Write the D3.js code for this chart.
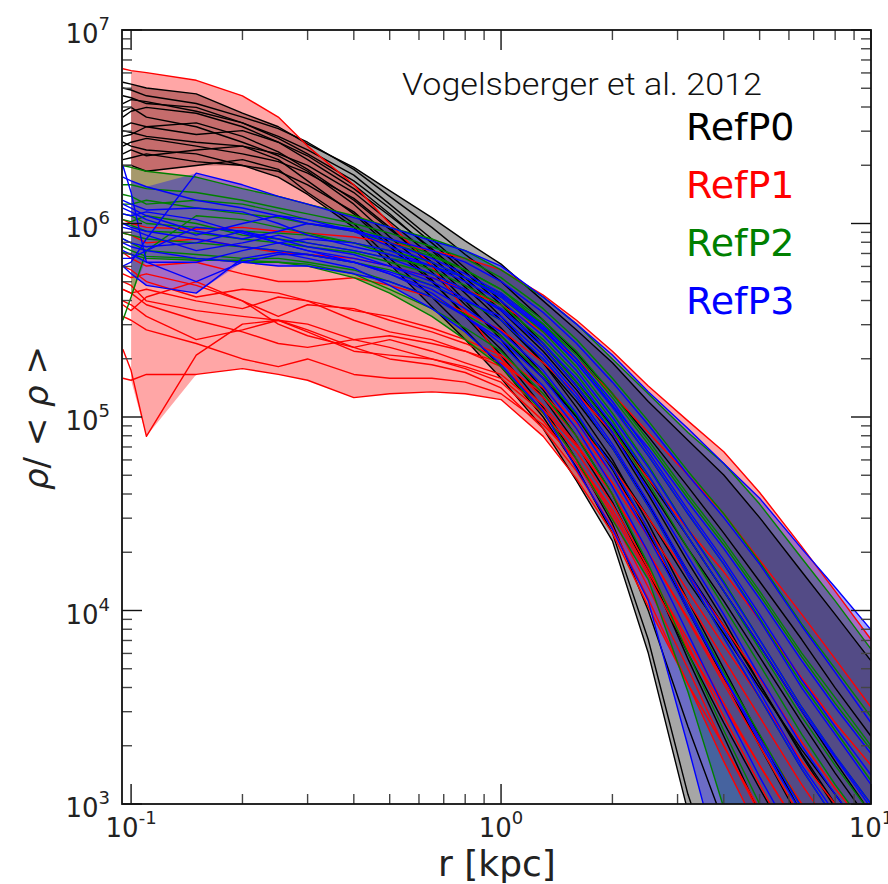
<!DOCTYPE html>
<html lang="en">
<head>
<meta charset="UTF-8">
<title>Density profiles</title>
<script src="https://d3js.org/d3.v7.min.js"></script>
<style>
    body { margin: 0; background: #fff; }
    text { font-family: "DejaVu Sans", sans-serif; }
</style>
</head>
<body>
<svg id="main" width="888" height="884"></svg>
<script>
// radius in kpc, shared by every profile
const radii = [0.095, 0.1, 0.11, 0.15, 0.2, 0.25, 0.3, 0.4, 0.5, 0.65, 0.8,
               1.0, 1.3, 1.6, 2.0, 2.5, 3.2, 4.0, 5.0, 6.5, 8.0, 10];

// log10(rho/<rho>) per halo
const refP0 = [
    [6.73,6.72,6.70,6.67,6.57,6.50,6.41,6.29,6.17,6.03,5.91, 5.79,5.60,5.45,5.28,5.08,4.88,4.70,4.48,4.20,3.98,3.74],
    [6.70,6.69,6.66,6.62,6.55,6.49,6.42,6.28,6.14,5.98,5.84, 5.70,5.50,5.33,5.12,4.90,4.64,4.40,4.15,3.85,3.60,3.35],
    [6.62,6.64,6.63,6.58,6.52,6.45,6.38,6.25,6.10,5.92,5.77, 5.60,5.38,5.18,4.95,4.68,4.38,4.10,3.82,3.48,3.22,2.95],
    [6.55,6.58,6.60,6.57,6.50,6.42,6.33,6.18,6.04,5.87,5.72, 5.55,5.34,5.14,4.90,4.60,4.25,3.95,3.62,3.25,2.98,2.70],
    [6.50,6.52,6.50,6.46,6.48,6.42,6.35,6.20,6.05,5.86,5.70, 5.52,5.28,5.05,4.78,4.45,4.05,3.70,3.35,2.95,2.65,2.40],
    [6.45,6.46,6.50,6.52,6.45,6.37,6.28,6.12,5.97,5.80,5.64, 5.46,5.22,5.00,4.73,4.40,4.00,3.65,3.30,2.90,2.60,2.30],
    [6.40,6.42,6.44,6.40,6.36,6.32,6.26,6.13,5.98,5.78,5.60, 5.40,5.14,4.90,4.60,4.22,3.75,3.35,2.95,2.50,2.20,2.00],
    [6.36,6.38,6.35,6.38,6.40,6.33,6.22,6.05,5.88,5.70,5.53, 5.35,5.10,4.86,4.56,4.20,3.78,3.42,3.08,2.70,2.40,2.10],
    [6.33,6.34,6.36,6.32,6.30,6.27,6.20,6.06,5.90,5.71,5.52, 5.32,5.05,4.78,4.45,4.00,3.40,2.90,2.50,2.10,1.80,1.50],
    [6.30,6.30,6.27,6.30,6.33,6.28,6.16,6.00,5.82,5.62,5.45, 5.26,5.00,4.74,4.40,3.85,3.05,2.50,2.00,1.60,1.30,1.00],
    [6.42,6.40,6.38,6.36,6.30,6.24,6.15,5.98,5.79,5.57,5.40, 5.20,4.94,4.67,4.36,3.78,2.96,2.40,2.00,1.60,1.30,1.00],
    [6.58,6.60,6.55,6.50,6.42,6.35,6.27,6.10,5.93,5.75,5.58, 5.42,5.20,5.00,4.76,4.48,4.15,3.88,3.60,3.28,3.05,2.80],
    [6.66,6.65,6.62,6.60,6.52,6.44,6.36,6.22,6.08,5.90,5.75, 5.58,5.36,5.16,4.92,4.64,4.32,4.05,3.76,3.42,3.16,2.90],
    [6.48,6.47,6.45,6.42,6.40,6.36,6.30,6.16,6.01,5.83,5.67, 5.50,5.28,5.08,4.84,4.55,4.20,3.92,3.62,3.26,3.00,2.74]
];
const refP1 = [
    [6.80,6.79,6.78,6.74,6.66,6.55,6.40,6.20,6.00,5.78,5.55, 5.30,5.02,4.78,4.50,4.18,3.80,3.50,3.20,2.85,2.60,2.35],
    [6.02,6.00,5.98,5.97,5.98,5.96,5.95,5.93,5.90,5.86,5.82, 5.76,5.63,5.50,5.34,5.16,4.98,4.82,4.61,4.33,4.10,3.85],
    [5.95,5.94,5.90,5.92,5.88,5.85,5.84,5.82,5.78,5.72,5.66, 5.58,5.44,5.30,5.12,4.92,4.70,4.50,4.26,3.98,3.75,3.50],
    [5.85,5.82,5.78,5.80,5.74,5.70,5.70,5.72,5.68,5.62,5.54, 5.45,5.28,5.12,4.92,4.68,4.42,4.20,3.95,3.65,3.42,3.20],
    [5.78,5.76,5.70,5.62,5.66,5.64,5.60,5.55,5.52,5.46,5.40, 5.32,5.15,4.97,4.74,4.48,4.18,3.92,3.65,3.32,3.08,2.85],
    [5.74,5.72,5.74,5.68,5.60,5.52,5.58,5.56,5.50,5.44,5.38, 5.30,5.10,4.90,4.66,4.38,4.05,3.75,3.45,3.10,2.85,2.60],
    [5.70,5.68,5.60,5.55,5.52,5.50,5.48,5.40,5.42,5.38,5.34, 5.26,5.06,4.86,4.60,4.30,3.95,3.62,3.30,2.92,2.65,2.40],
    [5.66,5.64,5.58,5.50,5.44,5.38,5.36,5.40,5.36,5.30,5.26, 5.20,5.02,4.82,4.55,4.22,3.82,3.45,3.10,2.70,2.40,2.10],
    [5.60,5.58,5.52,5.40,5.45,5.50,5.44,5.34,5.32,5.30,5.25, 5.18,4.98,4.76,4.48,4.12,3.70,3.30,2.95,2.55,2.30,2.00],
    [5.35,5.24,4.90,5.32,5.48,5.50,5.45,5.36,5.30,5.27,5.23, 5.15,4.94,4.72,4.43,4.06,3.62,3.22,2.85,2.45,2.20,1.90],
    [5.20,5.19,5.22,5.22,5.25,5.22,5.19,5.10,5.12,5.13,5.12, 5.09,4.90,4.68,4.40,4.02,3.62,3.30,2.97,2.60,2.30,2.00],
    [5.52,5.50,5.45,5.38,5.30,5.26,5.30,5.22,5.20,5.20,5.18, 5.12,4.96,4.78,4.52,4.20,3.85,3.52,3.20,2.85,2.60,2.35],
    [5.58,5.55,5.62,5.70,5.60,5.48,5.42,5.36,5.40,5.34,5.28, 5.22,5.04,4.85,4.60,4.30,3.96,3.64,3.34,3.00,2.75,2.50],
    [5.66,5.64,5.66,5.60,5.56,5.62,5.60,5.50,5.44,5.40,5.34, 5.28,5.12,4.94,4.70,4.42,4.10,3.82,3.55,3.22,3.00,2.75]
];
const refP2 = [
    [6.30,6.29,6.27,6.24,6.18,6.14,6.10,6.04,5.98,5.92,5.86, 5.76,5.62,5.48,5.30,5.12,4.92,4.76,4.55,4.27,4.05,3.80],
    [6.20,6.20,6.18,6.16,6.12,6.08,6.05,6.00,5.95,5.88,5.82, 5.72,5.56,5.40,5.20,4.98,4.72,4.50,4.25,3.93,3.70,3.45],
    [6.10,6.10,6.12,6.08,6.05,6.03,6.00,5.96,5.90,5.83,5.76, 5.66,5.50,5.34,5.12,4.88,4.60,4.36,4.10,3.78,3.55,3.30],
    [6.05,6.04,6.00,5.98,5.96,5.95,5.94,5.90,5.86,5.80,5.72, 5.62,5.44,5.26,5.02,4.75,4.42,4.15,3.85,3.50,3.25,3.00],
    [6.00,5.99,5.96,5.95,5.92,5.90,5.88,5.85,5.80,5.74,5.66, 5.56,5.38,5.18,4.94,4.66,4.32,4.02,3.72,3.36,3.10,2.85],
    [5.95,5.94,5.92,5.90,5.88,5.86,5.84,5.80,5.76,5.68,5.60, 5.50,5.30,5.10,4.84,4.54,4.18,3.86,3.55,3.18,2.92,2.65],
    [5.92,5.90,5.86,5.84,5.82,5.82,5.80,5.76,5.70,5.62,5.53, 5.42,5.22,5.01,4.74,4.42,4.02,3.68,3.36,2.98,2.70,2.45],
    [5.88,5.86,5.83,5.82,5.80,5.80,5.79,5.74,5.66,5.56,5.46, 5.34,5.12,4.90,4.60,4.24,3.78,3.38,3.00,2.60,2.30,2.00],
    [5.85,5.84,5.82,5.81,5.81,5.80,5.78,5.72,5.64,5.52,5.40, 5.26,5.02,4.78,4.47,4.16,3.58,2.98,2.50,2.10,1.80,1.50],
    [5.50,5.62,5.86,6.04,6.02,5.98,5.95,5.90,5.84,5.76,5.68, 5.58,5.40,5.22,4.98,4.70,4.38,4.10,3.80,3.45,3.20,2.95],
    [6.15,6.14,6.10,6.12,6.10,6.06,6.02,5.98,5.92,5.84,5.76, 5.66,5.48,5.30,5.06,4.80,4.50,4.24,3.96,3.62,3.38,3.12],
    [6.02,6.01,6.04,6.00,5.94,5.92,5.90,5.86,5.82,5.78,5.72, 5.64,5.48,5.32,5.10,4.86,4.58,4.34,4.08,3.76,3.52,3.28]
];
const refP3 = [
    [6.30,6.16,5.80,5.70,5.80,5.84,5.84,5.80,5.75,5.68,5.60, 5.52,5.32,5.12,4.86,4.56,4.20,3.90,3.58,3.20,2.95,2.70],
    [5.78,5.80,5.92,6.26,6.20,6.14,6.10,6.03,5.98,5.91,5.86, 5.78,5.62,5.48,5.32,5.13,4.94,4.76,4.58,4.32,4.12,3.90],
    [6.24,6.22,6.19,6.12,6.08,6.04,6.00,5.96,5.92,5.86,5.80, 5.70,5.54,5.38,5.18,4.96,4.70,4.48,4.24,3.92,3.68,3.42],
    [6.10,6.08,6.04,5.96,5.92,5.96,6.00,5.97,5.90,5.82,5.74, 5.64,5.47,5.30,5.08,4.82,4.52,4.26,3.98,3.64,3.40,3.15],
    [6.05,6.04,6.06,6.02,5.95,5.90,5.92,5.90,5.86,5.78,5.70, 5.60,5.42,5.24,5.00,4.74,4.42,4.14,3.85,3.50,3.25,3.00],
    [5.98,5.97,5.94,5.86,5.90,5.94,5.90,5.86,5.82,5.74,5.66, 5.55,5.36,5.16,4.92,4.62,4.28,3.98,3.66,3.30,3.05,2.80],
    [5.92,5.90,5.88,5.90,5.96,5.92,5.88,5.84,5.78,5.70,5.61, 5.50,5.30,5.10,4.84,4.54,4.18,3.86,3.55,3.18,2.92,2.65],
    [5.86,5.84,5.80,5.80,5.86,5.90,5.86,5.80,5.74,5.66,5.56, 5.44,5.24,5.02,4.74,4.42,4.02,3.66,3.32,2.95,2.70,2.45],
    [5.78,5.74,5.68,5.64,5.82,5.85,5.82,5.77,5.68,5.56,5.44, 5.27,5.03,4.73,4.42,4.05,3.30,2.60,2.20,1.80,1.50,1.20],
    [6.12,6.10,6.07,6.08,6.06,6.00,5.94,5.88,5.84,5.78,5.72, 5.63,5.46,5.28,5.05,4.80,4.50,4.24,3.95,3.60,3.36,3.10],
    [5.82,5.82,5.86,5.98,5.96,5.90,5.86,5.82,5.78,5.72,5.65, 5.56,5.38,5.20,4.96,4.70,4.38,4.10,3.82,3.48,3.24,2.98],
    [6.00,5.98,5.96,5.92,5.88,5.86,5.84,5.80,5.74,5.64,5.52, 5.38,5.16,4.94,4.64,4.30,3.88,3.50,3.14,2.75,2.50,2.25],
    [5.90,5.88,5.86,5.82,5.80,5.78,5.78,5.74,5.70,5.62,5.52, 5.40,5.20,4.98,4.70,4.38,4.00,3.66,3.34,2.98,2.72,2.48],
    [6.08,6.06,6.02,5.94,6.00,6.04,6.02,5.96,5.88,5.80,5.72, 5.62,5.45,5.28,5.06,4.84,4.56,4.32,4.06,3.74,3.50,3.26]
];

const groupNames = ['RefP0', 'RefP1', 'RefP2', 'RefP3'];
const groupColors = ['#000000', '#ff0000', '#008000', '#0000ff'];
const xMajorTicks = [0.1, 1, 10];
const xMajorExp = ['-1', '0', '1'];
const yMajorTicks = [1e3, 1e4, 1e5, 1e6, 1e7];
const yMajorExp = ['3', '4', '5', '6', '7'];

const svg = d3.select('#main');
const box = {left: 122, right: 871, top: 30, bottom: 804};

const x = d3.scaleLog().domain([0.0945, 10]).range([box.left, box.right]);
const y = d3.scaleLog().domain([1e3, 1e7]).range([box.bottom, box.top]);

svg.append('defs').append('clipPath').attr('id', 'clip')
    .append('rect')
    .attr('x', box.left).attr('y', box.top)
    .attr('width', box.right - box.left).attr('height', box.bottom - box.top);

let groups = [refP0, refP1, refP2, refP3];
let plot = svg.append('g').attr('clip-path', 'url(#clip)');

// shaded min-max band of each run
groups.forEach(function (lines, gi) {
    let band = radii.map(function (r, i) {
        return {r: r, lo: d3.min(lines, l => l[i]), hi: d3.max(lines, l => l[i])};
    }).filter(d => d.r >= 0.1);
    let area = d3.area()
        .x(d => x(d.r))
        .y0(d => y(Math.pow(10, d.lo)))
        .y1(d => y(Math.pow(10, d.hi)));
    plot.append('path')
        .datum(band)
        .attr('d', area)
        .attr('fill', groupColors[gi])
        .attr('fill-opacity', 0.35)
        .attr('stroke', 'none');
});

// individual halo profiles
let line = d3.line()
    .x((v, i) => x(radii[i]))
    .y(v => y(Math.pow(10, v)));
groups.forEach(function (lines, gi) {
    plot.append('g')
        .selectAll('path')
        .data(lines)
        .enter()
        .append('path')
        .attr('d', line)
        .attr('fill', 'none')
        .attr('stroke', groupColors[gi])
        .attr('stroke-width', 1.4)
        .attr('stroke-linejoin', 'round');
});

// ticks, inward on all four sides
let isMajor = v => Math.abs(Math.log10(v) - Math.round(Math.log10(v))) < 1e-6;
let ticks = svg.append('g');
x.ticks().forEach(function (v) {
    let len = isMajor(v) ? 20 : 10;
    let col = isMajor(v) ? '#111' : '#444';
    ticks.append('line').attr('x1', x(v)).attr('x2', x(v))
        .attr('y1', box.bottom).attr('y2', box.bottom - len)
        .attr('stroke', col).attr('stroke-width', 1.4);
    ticks.append('line').attr('x1', x(v)).attr('x2', x(v))
        .attr('y1', box.top).attr('y2', box.top + len)
        .attr('stroke', col).attr('stroke-width', 1.4);
});
y.ticks().forEach(function (v) {
    let len = isMajor(v) ? 20 : 10;
    let col = isMajor(v) ? '#111' : '#444';
    ticks.append('line').attr('x1', box.left).attr('x2', box.left + len)
        .attr('y1', y(v)).attr('y2', y(v))
        .attr('stroke', col).attr('stroke-width', 1.4);
    ticks.append('line').attr('x1', box.right).attr('x2', box.right - len)
        .attr('y1', y(v)).attr('y2', y(v))
        .attr('stroke', col).attr('stroke-width', 1.4);
});

// frame
svg.append('rect')
    .attr('x', box.left).attr('y', box.top)
    .attr('width', box.right - box.left).attr('height', box.bottom - box.top)
    .attr('fill', 'none').attr('stroke', '#111').attr('stroke-width', 1.8);

// tick labels
yMajorTicks.forEach(function (v, i) {
    let t = svg.append('text')
        .attr('x', 110).attr('y', y(v) + 13)
        .attr('text-anchor', 'end')
        .attr('fill', '#222')
        .style('font-size', '26px');
    t.append('tspan').text('10');
    t.append('tspan').attr('dy', -13).style('font-size', '18px').text(yMajorExp[i]);
});
xMajorTicks.forEach(function (v, i) {
    let t = svg.append('text')
        .attr('x', x(v)).attr('y', 837)
        .attr('text-anchor', 'middle')
        .attr('fill', '#222')
        .style('font-size', '26px');
    t.append('tspan').text('10');
    t.append('tspan').attr('dy', -13).style('font-size', '18px').text(xMajorExp[i]);
});

// axis titles
svg.append('text')
    .attr('x', 497).attr('y', 876)
    .attr('text-anchor', 'middle')
    .attr('fill', '#222')
    .style('font-size', '36px')
    .text('r [kpc]');

let yl = svg.append('text')
    .attr('transform', 'translate(48,418) rotate(-90)')
    .attr('text-anchor', 'middle')
    .attr('fill', '#222')
    .style('font-size', '34px');
yl.append('tspan').style('font-style', 'italic').text('ρ');
yl.append('tspan').text('/ < ');
yl.append('tspan').style('font-style', 'italic').text('ρ');
yl.append('tspan').text(' >');

// annotation and legend
svg.append('text')
    .attr('x', 402).attr('y', 95)
    .attr('fill', '#111')
    .attr('textLength', 360)
    .attr('lengthAdjust', 'spacingAndGlyphs')
    .style('font-family', '"Helvetica Neue", Roboto, "Liberation Sans", sans-serif')
    .style('font-weight', 300)
    .style('font-size', '31px')
    .text('Vogelsberger et al. 2012');

svg.selectAll('text.legend')
    .data(groupNames)
    .enter()
    .append('text')
    .attr('class', 'legend')
    .attr('x', 686)
    .attr('y', (d, i) => 140 + i * 58)
    .attr('fill', (d, i) => groupColors[i])
    .style('font-size', '38px')
    .text(d => d);
</script>
</body>
</html>
